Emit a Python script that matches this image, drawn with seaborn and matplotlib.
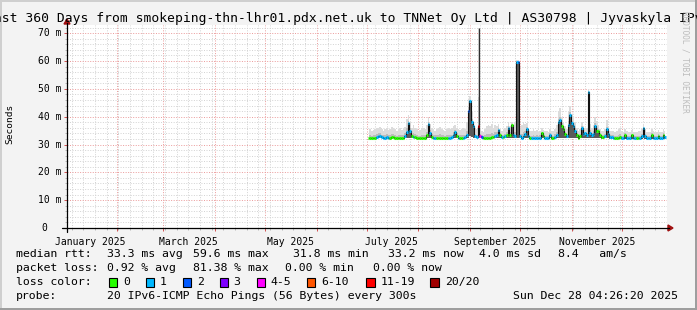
import numpy as np
import pandas as pd
import matplotlib
matplotlib.use("Agg")
import matplotlib.pyplot as plt
import matplotlib.dates as mdates
from matplotlib.ticker import MultipleLocator
from matplotlib.patches import Rectangle, Polygon
from matplotlib.lines import Line2D
import seaborn as sns

# ---------------- data ----------------
start_date = "2025-07-02 04:00"
n_days = 179

median_ms = [
    32.4, 32.4, 32.5, 32.4, 32.5, 32.8, 33.2, 33.0, 32.6, 32.5,
    32.5, 32.6, 32.5, 32.4, 32.6, 32.8, 32.5, 32.4, 32.4, 32.5,
    32.4, 32.5, 33.0, 34.5, 37.6, 35.0, 33.0, 32.8, 32.6, 32.4,
    32.3, 32.3, 32.4, 32.4, 32.5, 33.5, 37.2, 34.0, 32.6, 32.5,
    32.5, 32.4, 32.4, 32.5, 32.4, 32.4, 32.3, 32.4, 32.5, 32.5,
    32.6, 33.5, 34.6, 33.2, 32.5, 32.4, 32.4, 32.5, 32.6, 33.5,
    42.0, 45.5, 38.0, 36.5, 33.0, 32.6, 36.5, 33.0, 32.6, 32.4,
    32.4, 32.5, 32.4, 32.5, 32.6, 32.8, 33.2, 33.5, 35.3, 33.3,
    32.8, 32.6, 33.0, 33.4, 36.0, 33.5, 37.0, 33.5, 33.0, 59.8,
    59.5, 33.0, 32.5, 33.2, 33.6, 35.5, 33.2, 32.4, 32.3, 32.3,
    32.3, 32.4, 32.3, 32.5, 34.0, 33.0, 32.3, 32.4, 32.3, 33.5,
    32.5, 32.4, 32.8, 33.4, 38.0, 38.7, 36.5, 35.6, 33.8, 33.0,
    37.0, 40.5, 37.6, 36.6, 35.0, 33.5, 32.4, 33.0, 36.0, 33.6,
    34.0, 33.5, 49.0, 34.2, 33.4, 33.8, 36.5, 35.0, 35.0, 33.5,
    32.8, 32.8, 33.0, 35.5, 33.8, 32.6, 32.6, 32.5, 32.4, 32.4,
    32.4, 32.8, 32.3, 32.2, 33.3, 32.3, 32.2, 32.2, 33.3, 32.3,
    32.2, 32.2, 32.3, 32.4, 33.0, 36.0, 33.0, 32.3, 32.3, 32.3,
    33.5, 32.4, 32.3, 32.3, 33.2, 32.3, 32.3, 33.5, 32.6,
]

smoke_hi_ms = [
    35.0, 35.5, 34.8, 35.2, 35.6, 36.0, 35.8, 36.2, 35.5, 35.0,
    35.4, 36.0, 35.2, 35.6, 36.2, 35.8, 35.4, 35.0, 35.6, 36.0,
    35.2, 35.8, 36.4, 39.0, 40.5, 38.0, 36.0, 37.0, 36.0, 35.4,
    35.0, 35.2, 35.8, 36.0, 35.4, 37.0, 40.0, 37.5, 36.0, 35.6,
    35.0, 35.4, 35.8, 36.2, 35.6, 35.2, 35.0, 35.6, 36.0, 35.5,
    35.8, 36.6, 37.0, 36.0, 35.5, 35.2, 35.6, 36.0, 35.4, 38.0,
    46.5, 47.5, 42.0, 38.5, 36.0, 35.5, 72.0, 36.0, 35.0, 34.6,
    35.5, 36.8, 37.0, 36.5, 37.2, 36.0, 37.0, 36.5, 37.5, 35.5,
    35.0, 35.5, 36.0, 36.5, 38.0, 36.5, 38.0, 37.0, 38.0, 60.5,
    60.2, 35.5, 37.0, 38.0, 37.5, 37.6, 36.0, 35.0, 35.0, 35.5,
    34.8, 35.2, 34.6, 35.0, 35.8, 35.2, 34.8, 35.0, 34.6, 35.5,
    34.8, 35.0, 35.6, 37.0, 42.0, 43.0, 40.0, 38.0, 36.5, 35.5,
    42.0, 44.0, 41.0, 40.0, 38.0, 36.0, 35.0, 35.5, 38.0, 36.5,
    36.0, 36.0, 50.0, 37.5, 36.0, 37.0, 40.0, 38.5, 37.0, 35.5,
    35.0, 35.0, 35.5, 38.7, 36.5, 35.0, 34.8, 35.0, 34.6, 35.0,
    35.5, 36.0, 35.0, 34.6, 35.5, 34.8, 34.5, 34.6, 35.2, 34.6,
    34.5, 34.6, 34.8, 35.0, 35.5, 37.5, 35.5, 34.6, 34.5, 34.6,
    35.5, 34.8, 34.5, 34.6, 35.2, 34.6, 34.5, 35.5, 34.8,
]

smoke_lo_ms = [
    32.2, 32.2, 32.2, 32.2, 32.2, 32.3, 32.3, 32.3, 32.2, 32.2,
    32.2, 32.2, 32.2, 32.2, 32.2, 32.3, 32.2, 32.2, 32.2, 32.2,
    32.2, 32.2, 32.2, 32.4, 32.5, 32.4, 32.3, 32.2, 32.2, 32.2,
    32.1, 32.1, 32.1, 32.1, 32.2, 32.3, 32.4, 32.3, 32.2, 32.2,
    32.2, 32.2, 32.2, 32.2, 32.2, 32.2, 32.1, 32.2, 32.2, 32.2,
    32.2, 32.3, 32.4, 32.3, 32.2, 32.2, 32.2, 32.2, 32.2, 32.3,
    32.5, 33.0, 32.6, 32.5, 32.3, 32.2, 32.5, 32.4, 32.2, 32.2,
    32.2, 32.2, 32.2, 32.2, 32.2, 32.3, 32.3, 32.3, 32.4, 32.3,
    32.3, 32.3, 32.3, 32.3, 32.4, 32.3, 32.4, 32.4, 32.4, 32.5,
    32.5, 32.3, 32.2, 32.3, 32.3, 32.4, 32.3, 32.1, 32.1, 32.1,
    32.1, 32.1, 32.1, 32.2, 32.3, 32.2, 32.1, 32.1, 32.1, 32.2,
    32.2, 32.1, 32.2, 32.3, 32.5, 32.5, 32.4, 32.3, 32.2, 32.2,
    32.5, 32.5, 32.4, 32.4, 32.3, 32.2, 32.1, 32.2, 32.3, 32.2,
    32.2, 32.2, 32.5, 32.3, 32.2, 32.2, 32.3, 32.3, 32.2, 32.2,
    32.1, 32.1, 32.2, 32.3, 32.2, 32.1, 32.1, 32.1, 32.1, 32.1,
    32.1, 32.2, 32.0, 32.0, 32.1, 32.0, 32.0, 32.0, 32.1, 32.0,
    32.0, 32.0, 32.0, 32.1, 32.1, 32.3, 32.1, 32.0, 32.0, 32.0,
    32.1, 32.0, 32.0, 32.0, 32.1, 32.0, 32.0, 32.1, 32.0,
]

loss_cnt = [
    0, 0, 0, 0, 0, 1, 1, 1, 1, 1,
    1, 1, 1, 0, 0, 0, 0, 0, 0, 0,
    0, 0, 1, 1, 1, 1, 0, 1, 0, 0,
    0, 0, 0, 0, 0, 0, 1, 1, 0, 1,
    1, 0, 0, 0, 0, 0, 0, 0, 1, 1,
    1, 1, 1, 0, 1, 0, 0, 1, 1, 1,
    2, 1, 1, 1, 1, 1, 16, 4, 2, 0,
    0, 0, 0, 0, 0, 0, 1, 1, 1, 0,
    1, 0, 1, 0, 1, 0, 0, 1, 1, 1,
    2, 1, 1, 1, 1, 1, 1, 0, 1, 1,
    1, 1, 1, 1, 0, 0, 1, 1, 1, 1,
    0, 0, 1, 1, 1, 1, 0, 0, 0, 1,
    1, 1, 1, 1, 1, 0, 0, 0, 1, 1,
    1, 1, 1, 1, 1, 1, 1, 0, 0, 0,
    0, 0, 1, 1, 1, 1, 1, 1, 0, 0,
    0, 0, 1, 1, 0, 1, 1, 1, 0, 1,
    1, 0, 0, 1, 1, 1, 1, 1, 1, 1,
    0, 1, 1, 1, 0, 1, 1, 0, 1,
]

y_ticks = [0, 10, 20, 30, 40, 50, 60, 70]
y_tick_labels = ["0", "10 m", "20 m", "30 m", "40 m", "50 m", "60 m", "70 m"]
x_label_months = ["2025-01-01", "2025-03-01", "2025-05-01", "2025-07-01", "2025-09-01", "2025-11-01"]
x_label_texts = ["January 2025", "March 2025", "May 2025", "July 2025", "September 2025", "November 2025"]

loss_bins = ["0", "1", "2", "3", "4-5", "6-10", "11-19", "20/20"]
loss_colors = ["#26ff00", "#00b8ff", "#0059ff", "#7e00ff", "#ff00ff", "#ff5500", "#ff0000", "#a10000"]

title = "Last 360 Days from smokeping-thn-lhr01.pdx.net.uk to TNNet Oy Ltd | AS30798 | Jyvaskyla IPv6"
row1 = [("median rtt:", 16), ("33.3 ms avg", 107), ("59.6 ms max", 193), ("31.8 ms min", 293),
        ("33.2 ms now", 388), ("4.0 ms sd", 479), ("8.4   am/s", 558)]
row2 = [("packet loss:", 16), ("0.92 % avg", 107), ("81.38 % max", 193), ("0.00 % min", 285),
        ("0.00 % now", 373)]
row4 = [("probe:", 16), ("20 IPv6-ICMP Echo Pings (56 Bytes) every 300s", 107),
        ("Sun Dec 28 04:26:20 2025", 513)]

# ---------------- figure ----------------
sns.set_theme(style="white")
plt.rcParams["font.family"] = ["DejaVu Sans Mono", "DejaVu Sans"]

W, H = 697, 310
fig = plt.figure(figsize=(W / 100, H / 100), dpi=100, facecolor="#f3f3f3")


def fx(p):
    return p / W


def fy(p):
    return 1 - p / H


# border shading
for (x0, y0, w, h, c) in [(0, 0, W, 2, "#cfcfcf"), (0, 0, 2, H, "#cfcfcf"),
                           (0, H - 2, W, 2, "#9e9e9e"), (W - 2, 0, 2, H, "#9e9e9e")]:
    fig.patches.append(Rectangle((fx(x0), fy(y0 + h)), w / W, h / H, transform=fig.transFigure,
                                 facecolor=c, edgecolor="none", zorder=0))

PL, PR, PT, PB = 67, 667, 25, 228
px_per_ms = 2.783
ax = fig.add_axes([fx(PL), fy(PB), (PR - PL) / W, (PB - PT) / H])
ax.set_facecolor("white")
t0 = pd.Timestamp("2025-01-02 04:26:20")
t1 = pd.Timestamp("2025-12-28 04:26:20")
ax.set_xlim(t0, t1)
ax.set_ylim(0, (PB - PT) / px_per_ms)
for s in ax.spines.values():
    s.set_visible(False)

ax.xaxis.set_major_locator(mdates.MonthLocator())
ax.xaxis.set_minor_locator(mdates.WeekdayLocator(byweekday=mdates.SU))
ax.yaxis.set_major_locator(MultipleLocator(10))
ax.yaxis.set_minor_locator(MultipleLocator(2))
ax.grid(which="minor", color="#d2d2d2", lw=0.7, ls=(0, (1, 1.6)))
ax.grid(which="major", color="#eb9a9a", lw=0.7, ls=(0, (1, 1.6)))
ax.set_axisbelow(True)
ax.tick_params(which="both", labelbottom=False, labelleft=False, length=2.0, width=0.7,
               direction="out", bottom=True, left=True)
ax.tick_params(which="major", colors="#d05050")
ax.tick_params(which="minor", colors="#b8b8b8", length=1.5)

# data frame
dates = pd.date_range(start_date, periods=n_days, freq="D")
df = pd.DataFrame({"date": dates, "median": median_ms, "hi": smoke_hi_ms,
                   "lo": smoke_lo_ms, "loss": loss_cnt})
med = df["median"].to_numpy()
hi = df["hi"].to_numpy()
lo = df["lo"].to_numpy()

# smoke
ax.fill_between(df["date"], lo, hi, step="mid", color="#dcdcdc", lw=0, zorder=2)
ax.fill_between(df["date"], lo, med + 0.3 * (hi - med), step="mid", color="#bdbdbd", lw=0, zorder=2)
ax.fill_between(df["date"], lo, med, step="mid", color="#5a5a5a", lw=0, zorder=2)
out = hi - med > 20
ax.vlines(df["date"][out], med[out], hi[out], color="#303030", lw=0.9, zorder=3)

# median line
sns.lineplot(data=df, x="date", y="median", drawstyle="steps-mid", color="#111111",
             lw=0.8, ax=ax, legend=False, zorder=3)


def loss_color(c):
    if c == 0:
        return loss_colors[0]
    if c == 1:
        return loss_colors[1]
    if c == 2:
        return loss_colors[2]
    if c == 3:
        return loss_colors[3]
    if c <= 5:
        return loss_colors[4]
    if c <= 10:
        return loss_colors[5]
    if c <= 19:
        return loss_colors[6]
    return loss_colors[7]


half = pd.Timedelta(hours=12)
ax.hlines(med, df["date"] - half, df["date"] + half,
          colors=[loss_color(c) for c in df["loss"]], lw=2.2, zorder=4)
ax.set_xlabel("")
ax.set_ylabel("")

# y tick labels
ytr = ax.get_yaxis_transform()
for v, lab in zip(y_ticks, y_tick_labels):
    xpix = 61 if lab.endswith("m") else 47
    ax.text((xpix - PL) / (PR - PL), v, lab, transform=ytr, ha="right", va="center",
            fontsize=7.0, color="black", clip_on=False)

# x labels (centered half a month after month start)
xtr = ax.get_xaxis_transform()
for m, lab in zip(x_label_months, x_label_texts):
    pos = pd.Timestamp(m) + pd.Timedelta(days=15)
    ax.text(pos, (PB - 242) / (PB - PT), lab, transform=xtr, ha="center", va="center",
            fontsize=7.0, color="black", clip_on=False)

# axes lines and arrows
axis_col = "#000000"
arrow_col = "#a01010"
fig.lines.append(Line2D([fx(62), fx(669)], [fy(PB), fy(PB)], transform=fig.transFigure,
                        color=axis_col, lw=0.9))
fig.lines.append(Line2D([fx(PL), fx(PL)], [fy(232), fy(23)], transform=fig.transFigure,
                        color=axis_col, lw=0.9))
fig.patches.append(Polygon([[fx(668), fy(PB - 3)], [fx(673), fy(PB)], [fx(668), fy(PB + 3)]],
                           closed=True, transform=fig.transFigure, color=arrow_col))
fig.patches.append(Polygon([[fx(PL - 3), fy(24)], [fx(PL), fy(19)], [fx(PL + 3), fy(24)]],
                           closed=True, transform=fig.transFigure, color=arrow_col))

# title, y label, watermark
fig.text(0.5, fy(22), title, ha="center", va="baseline", fontsize=9.4, color="black")
fig.text(fx(10), fy(124), "Seconds", rotation=90, ha="center", va="center", fontsize=6.8,
         color="black")
fig.text(fx(685), fy(62), "RRDTOOL / TOBI OETIKER", rotation=270, ha="center", va="center",
         fontsize=5.6, color="#bcbcbc")

# legend rows
LFS = 8.25
for txt, x in row1:
    fig.text(fx(x), fy(254), txt, ha="left", va="center", fontsize=LFS, color="black")
for txt, x in row2:
    fig.text(fx(x), fy(268), txt, ha="left", va="center", fontsize=LFS, color="black")
fig.text(fx(16), fy(282), "loss color:", ha="left", va="center", fontsize=LFS, color="black")
box_x = [108.7, 145.7, 182.7, 220.0, 256.7, 306.7, 366.0, 430.0]
lab_x = [123.3, 160.0, 196.7, 233.3, 270.7, 321.7, 381.0, 445.0]
for bx, lx, lab, col in zip(box_x, lab_x, loss_bins, loss_colors):
    fig.patches.append(Rectangle((fx(bx), fy(286.5)), 8.5 / W, 8.5 / H, transform=fig.transFigure,
                                 facecolor=col, edgecolor="black", lw=0.8))
    fig.text(fx(lx), fy(282), lab, ha="left", va="center", fontsize=LFS, color="black")
for txt, x in row4:
    fig.text(fx(x), fy(296), txt, ha="left", va="center", fontsize=LFS, color="black")

fig.savefig("out.png", dpi=100, facecolor=fig.get_facecolor())
